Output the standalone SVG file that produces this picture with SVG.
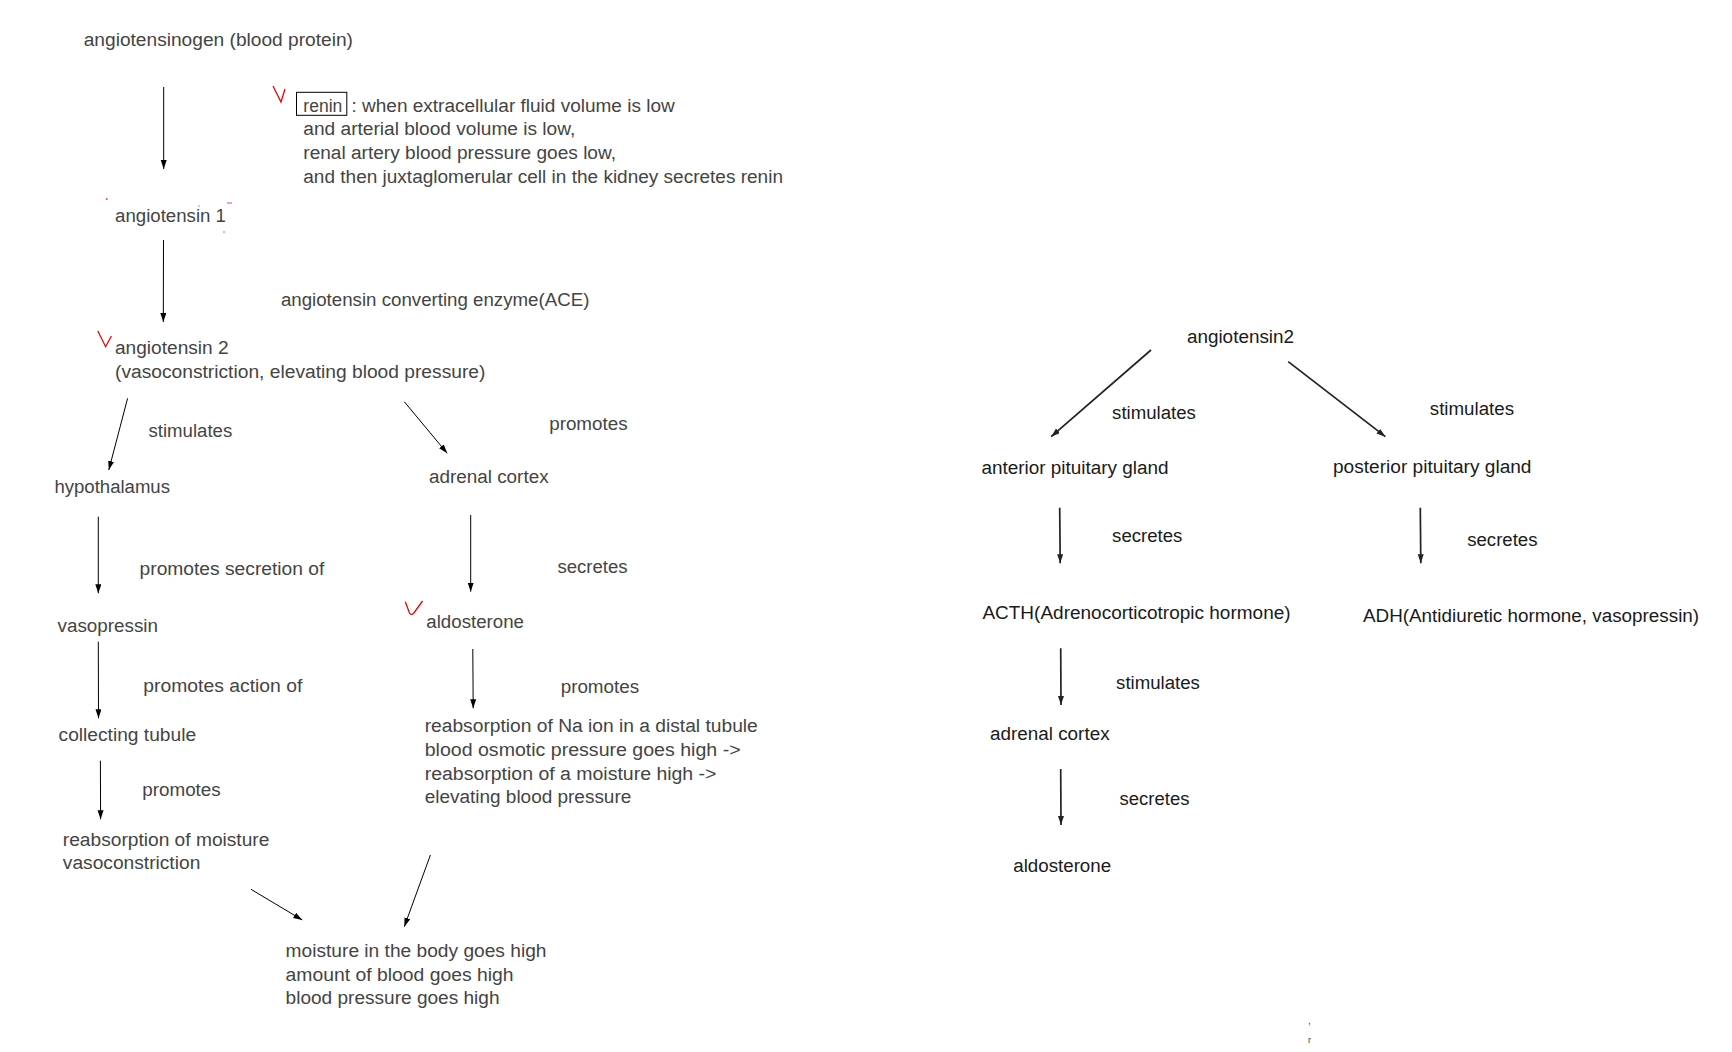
<svg xmlns="http://www.w3.org/2000/svg" width="1732" height="1052" viewBox="0 0 1732 1052">
<style>
.t{font-family:"Liberation Sans",Arial,sans-serif;font-size:18px;fill:#444}
.r{font-family:"Liberation Sans",Arial,sans-serif;font-size:18px;fill:#1a1a1a}
.a{stroke:#000;stroke-width:1;fill:none;marker-end:url(#ah)}
.b{stroke:#222;stroke-width:1.7;fill:none;marker-end:url(#ah2)}
.v{stroke:#e00;stroke-width:1.3;fill:none}
.d{fill:#f44}
</style>
<defs>
<marker id="ah" markerUnits="userSpaceOnUse" markerWidth="10" markerHeight="8" refX="9" refY="3" orient="auto"><path d="M0,0 L9,3 L0,6 z" fill="#000"/></marker>
<marker id="ah2" markerUnits="userSpaceOnUse" markerWidth="10" markerHeight="8" refX="9" refY="3" orient="auto"><path d="M0,0 L9,3 L0,6 z" fill="#222"/></marker>
</defs>
<rect width="1732" height="1052" fill="#fff"/>

<g id="connectors">
<line class="a" x1="163.7" y1="87" x2="163.7" y2="169"/>
<line class="a" x1="163.5" y1="240" x2="163.3" y2="322"/>
<line class="a" x1="127.6" y1="398.3" x2="108.8" y2="470"/>
<line class="a" x1="404.3" y1="401.7" x2="447.2" y2="453.3"/>
<line class="a" x1="98.3" y1="516.7" x2="98.3" y2="593.3"/>
<line class="a" x1="470.7" y1="515" x2="470.7" y2="591.7"/>
<line class="a" x1="98.3" y1="641.7" x2="98.5" y2="718.3"/>
<line class="a" x1="472.8" y1="649" x2="473.2" y2="708.3"/>
<line class="a" x1="100.4" y1="760.7" x2="100.6" y2="819.3"/>
<line class="a" x1="251" y1="889.3" x2="302.3" y2="920"/>
<line class="a" x1="430.4" y1="855" x2="404.3" y2="926.7"/>
<line class="b" x1="1151" y1="350" x2="1051.2" y2="436.7"/>
<line class="b" x1="1288.2" y1="361.7" x2="1385.4" y2="436.7"/>
<line class="b" x1="1059.7" y1="507.7" x2="1060.2" y2="563.3"/>
<line class="b" x1="1420.3" y1="507.7" x2="1420.8" y2="563.3"/>
<line class="b" x1="1060.7" y1="648.3" x2="1061" y2="705"/>
<line class="b" x1="1060.7" y1="769" x2="1061" y2="825"/>
</g>

<g id="edge-labels">
<text class="t" x="280.9" y="306" textLength="308.5" lengthAdjust="spacingAndGlyphs">angiotensin converting enzyme(ACE)</text>
<text class="t" x="148.5" y="436.7" textLength="83.7" lengthAdjust="spacingAndGlyphs">stimulates</text>
<text class="t" x="549.2" y="430" textLength="78.4" lengthAdjust="spacingAndGlyphs">promotes</text>
<text class="t" x="139.6" y="575" textLength="184.7" lengthAdjust="spacingAndGlyphs">promotes secretion of</text>
<text class="t" x="557.5" y="572.7" textLength="70.1" lengthAdjust="spacingAndGlyphs">secretes</text>
<text class="t" x="143.3" y="691.7" textLength="159" lengthAdjust="spacingAndGlyphs">promotes action of</text>
<text class="t" x="560.7" y="692.7" textLength="78.4" lengthAdjust="spacingAndGlyphs">promotes</text>
<text class="t" x="142.3" y="796" textLength="78.4" lengthAdjust="spacingAndGlyphs">promotes</text>
<text class="r" x="1112.1" y="419.3" textLength="83.8" lengthAdjust="spacingAndGlyphs">stimulates</text>
<text class="r" x="1429.8" y="415.3" textLength="84.3" lengthAdjust="spacingAndGlyphs">stimulates</text>
<text class="r" x="1112.1" y="542.3" textLength="70.3" lengthAdjust="spacingAndGlyphs">secretes</text>
<text class="r" x="1467.2" y="546" textLength="70.3" lengthAdjust="spacingAndGlyphs">secretes</text>
<text class="r" x="1116.1" y="689.3" textLength="83.8" lengthAdjust="spacingAndGlyphs">stimulates</text>
<text class="r" x="1119.6" y="805" textLength="69.8" lengthAdjust="spacingAndGlyphs">secretes</text>
</g>

<g id="n-angiotensinogen">
<text class="t" x="83.7" y="46" textLength="269.3" lengthAdjust="spacingAndGlyphs">angiotensinogen (blood protein)</text>
</g>

<g id="n-renin">
<polyline class="v" points="273,86 281,102 285,89"/>
<rect x="296.5" y="92.3" width="50.3" height="23" fill="none" stroke="#000" stroke-width="1"/>
<text class="t" x="303.3" y="111.7" textLength="39" lengthAdjust="spacingAndGlyphs">renin</text>
<text class="t" x="351.5" y="111.7" textLength="323.2" lengthAdjust="spacingAndGlyphs">: when extracellular fluid volume is low</text>
<text class="t" x="303.3" y="135" textLength="272" lengthAdjust="spacingAndGlyphs">and arterial blood volume is low,</text>
<text class="t" x="303.3" y="159" textLength="312.7" lengthAdjust="spacingAndGlyphs">renal artery blood pressure goes low,</text>
<text class="t" x="303.3" y="182.7" textLength="479.7" lengthAdjust="spacingAndGlyphs">and then juxtaglomerular cell in the kidney secretes renin</text>
</g>

<g id="n-angiotensin1">
<circle class="d" cx="106.7" cy="199" r="1"/>
<circle class="d" cx="199" cy="206" r="0.7"/>
<line x1="227" y1="203" x2="232" y2="203" stroke="#f44" stroke-width="1"/>
<circle class="d" cx="224" cy="232" r="0.8"/>
<text class="t" x="115" y="221.7" textLength="111" lengthAdjust="spacingAndGlyphs">angiotensin 1</text>
</g>

<g id="n-angiotensin2">
<polyline class="v" points="97.8,331 105.6,346.7 111.4,336"/>
<text class="t" x="115" y="354" textLength="113.6" lengthAdjust="spacingAndGlyphs">angiotensin 2</text>
<text class="t" x="115" y="377.7" textLength="370.4" lengthAdjust="spacingAndGlyphs">(vasoconstriction, elevating blood pressure)</text>
</g>

<g id="n-hypothalamus">
<text class="t" x="54.4" y="493.3" textLength="115.6" lengthAdjust="spacingAndGlyphs">hypothalamus</text>
</g>

<g id="n-adrenal-cortex-left">
<text class="t" x="428.9" y="482.7" textLength="119.7" lengthAdjust="spacingAndGlyphs">adrenal cortex</text>
</g>

<g id="n-vasopressin">
<text class="t" x="57.5" y="631.7" textLength="100.5" lengthAdjust="spacingAndGlyphs">vasopressin</text>
</g>

<g id="n-aldosterone-left">
<path class="v" d="M405.3,601.7 L409.5,613 Q411,615.5 413.5,613.5 L422.6,601"/>
<text class="t" x="426.3" y="628.3" textLength="97.7" lengthAdjust="spacingAndGlyphs">aldosterone</text>
</g>

<g id="n-collecting-tubule">
<text class="t" x="58.6" y="740.7" textLength="137.5" lengthAdjust="spacingAndGlyphs">collecting tubule</text>
</g>

<g id="n-na-reabsorption">
<text class="t" x="424.7" y="731.7" textLength="333.1" lengthAdjust="spacingAndGlyphs">reabsorption of Na ion in a distal tubule</text>
<text class="t" x="424.7" y="755.7" textLength="315.9" lengthAdjust="spacingAndGlyphs">blood osmotic pressure goes high -&gt;</text>
<text class="t" x="424.7" y="780" textLength="291.8" lengthAdjust="spacingAndGlyphs">reabsorption of a moisture high -&gt;</text>
<text class="t" x="424.7" y="803.3" textLength="206.6" lengthAdjust="spacingAndGlyphs">elevating blood pressure</text>
</g>

<g id="n-moisture-reabsorption">
<text class="t" x="62.8" y="845.7" textLength="206.6" lengthAdjust="spacingAndGlyphs">reabsorption of moisture</text>
<text class="t" x="62.8" y="869.3" textLength="137.5" lengthAdjust="spacingAndGlyphs">vasoconstriction</text>
</g>

<g id="n-result">
<text class="t" x="285.6" y="956.7" textLength="260.9" lengthAdjust="spacingAndGlyphs">moisture in the body goes high</text>
<text class="t" x="285.6" y="980.7" textLength="228" lengthAdjust="spacingAndGlyphs">amount of blood goes high</text>
<text class="t" x="285.6" y="1004.3" textLength="213.9" lengthAdjust="spacingAndGlyphs">blood pressure goes high</text>
</g>

<g id="n-angiotensin2-right">
<text class="r" x="1186.9" y="343.3" textLength="107.2" lengthAdjust="spacingAndGlyphs">angiotensin2</text>
</g>

<g id="n-anterior-pituitary">
<text class="r" x="981.4" y="474" textLength="187.1" lengthAdjust="spacingAndGlyphs">anterior pituitary gland</text>
</g>

<g id="n-posterior-pituitary">
<text class="r" x="1333" y="472.7" textLength="198.5" lengthAdjust="spacingAndGlyphs">posterior pituitary gland</text>
</g>

<g id="n-acth">
<text class="r" x="982.4" y="619.3" textLength="308.2" lengthAdjust="spacingAndGlyphs">ACTH(Adrenocorticotropic hormone)</text>
</g>

<g id="n-adh">
<text class="r" x="1363" y="621.7" textLength="336.1" lengthAdjust="spacingAndGlyphs">ADH(Antidiuretic hormone, vasopressin)</text>
</g>

<g id="n-adrenal-cortex-right">
<text class="r" x="989.9" y="740" textLength="119.7" lengthAdjust="spacingAndGlyphs">adrenal cortex</text>
</g>

<g id="n-aldosterone-right">
<text class="r" x="1013.3" y="871.7" textLength="97.8" lengthAdjust="spacingAndGlyphs">aldosterone</text>
</g>

<g id="marks">
<text class="r" x="1308" y="1024" style="font-size:10px;fill:#444">,</text>
<text class="r" x="1308" y="1043" style="font-size:9px;fill:#444">r</text>
</g>
</svg>
